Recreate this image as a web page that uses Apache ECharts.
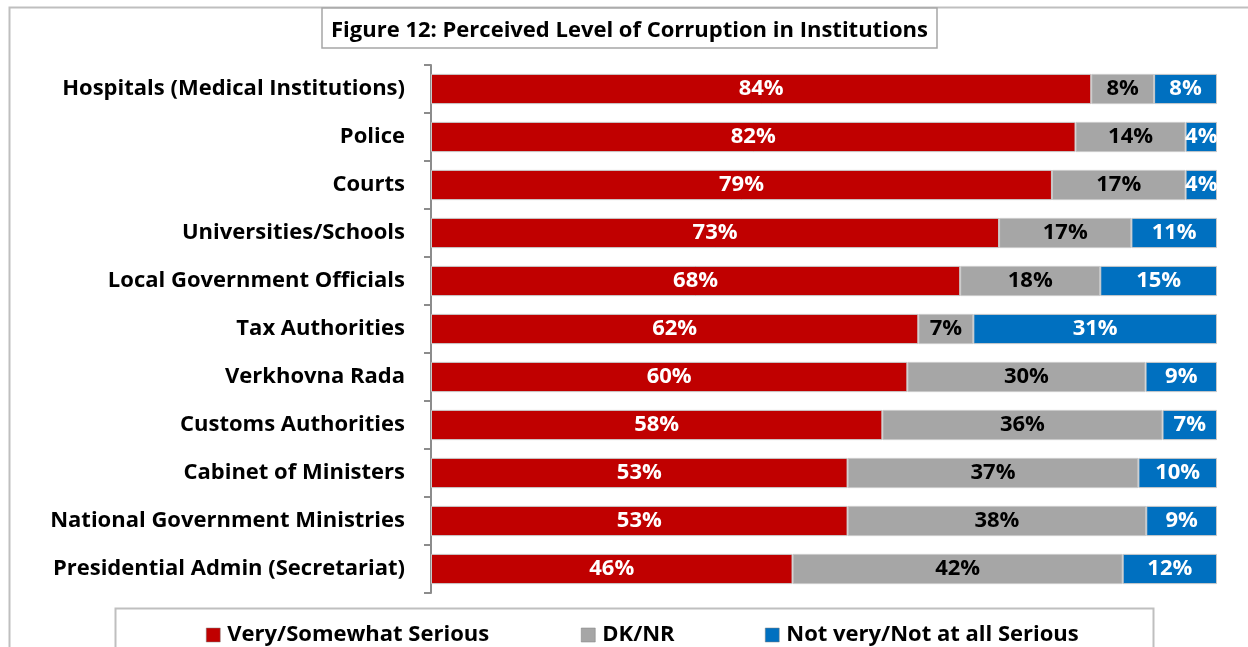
<!DOCTYPE html>
<html>
<head>
<meta charset="utf-8">
<script src="https://cdn.jsdelivr.net/npm/echarts@6/dist/echarts.min.js"></script>
<style>
  html, body { margin: 0; padding: 0; background: #fff; }
  #chart { width: 1248px; height: 647px; }
</style>
</head>
<body>
<div id="chart"></div>
<script>
// Institutions, top to bottom
const institutions = [
  'Hospitals (Medical Institutions)',
  'Police',
  'Courts',
  'Universities/Schools',
  'Local Government Officials',
  'Tax Authorities',
  'Verkhovna Rada',
  'Customs Authorities',
  'Cabinet of Ministers',
  'National Government Ministries',
  'Presidential Admin (Secretariat)'
];

// Survey shares (%)
const serious    = [84, 82, 79, 73, 68, 62, 60, 58, 53, 53, 46];
const dkNr       = [8, 14, 17, 17, 18, 7, 30, 36, 37, 38, 42];
const notSerious = [8, 4, 4, 11, 15, 31, 9, 7, 10, 9, 12];

const seriesNames = ['Very/Somewhat Serious', 'DK/NR', 'Not very/Not at all Serious'];
const seriesColors = ['#C00000', '#A6A6A6', '#0070C0'];
const labelColors = ['#ffffff', '#000000', '#ffffff'];

const FONT = 'Open Sans';
const FS = 22;
const groups = [serious, dkNr, notSerious];

// Each bar is drawn as a 100% stack: a segment's length is its share of the row total
const totals = institutions.map((_, i) => groups.reduce((s, g) => s + g[i], 0));

const series = groups.map((vals, k) => ({
  name: seriesNames[k],
  type: 'bar',
  stack: 'total',
  barCategoryGap: '37%',
  itemStyle: { color: seriesColors[k], borderColor: '#c8c8c8', borderWidth: 1 },
  label: {
    show: true,
    position: 'inside',
    color: labelColors[k],
    fontFamily: FONT,
    fontWeight: 'bold',
    fontSize: FS,
    padding: [4, 0, 0, 0],
    formatter: p => vals[p.dataIndex] + '%'
  },
  data: vals.map((v, i) => v / totals[i] * 100)
}));

// One legend block per series so each entry sits at its own x position
const legendLeft = [201, 576, 760];
const legends = seriesNames.map((name, k) => ({
  data: [name],
  left: legendLeft[k],
  top: 619,
  itemWidth: 14,
  itemHeight: 14,
  icon: 'rect',
  itemStyle: { borderColor: '#7f7f7f', borderWidth: 0.5 },
  textStyle: { fontFamily: FONT, fontWeight: 'bold', fontSize: FS, color: '#000', padding: [0, 0, 0, 2] }
}));

const chart = echarts.init(document.getElementById('chart'), null, { renderer: 'canvas' });
chart.setOption({
  animation: false,
  backgroundColor: '#ffffff',
  textStyle: { fontFamily: FONT },
  graphic: [
    { type: 'rect', silent: true, z: -1,
      shape: { x: 9.5, y: 7.5, width: 1300, height: 700 },
      style: { fill: 'none', stroke: '#bfbfbf', lineWidth: 2 } },
    { type: 'rect', silent: true, z: -1,
      shape: { x: 115.5, y: 608.5, width: 1038, height: 60 },
      style: { fill: '#fff', stroke: '#bfbfbf', lineWidth: 2 } }
  ],
  title: {
    text: 'Figure 12: Perceived Level of Corruption in Institutions',
    left: 322,
    top: 8,
    padding: [10, 9, 5, 9],
    borderColor: '#a6a6a6',
    borderWidth: 1.5,
    backgroundColor: '#fff',
    textStyle: { fontFamily: FONT, fontWeight: 'bold', fontSize: FS, lineHeight: 25, color: '#000' }
  },
  legend: legends,
  grid: { left: 431, right: 31, top: 65, bottom: 54, containLabel: false },
  xAxis: {
    type: 'value',
    min: 0,
    max: 100,
    show: false
  },
  yAxis: {
    type: 'category',
    inverse: true,
    data: institutions,
    axisLine: { show: true, lineStyle: { color: '#8c8c8c', width: 2 } },
    axisTick: { show: true, length: 7, inside: false, lineStyle: { color: '#8c8c8c', width: 2 } },
    axisLabel: {
      fontFamily: FONT,
      fontWeight: 'bold',
      fontSize: FS,
      color: '#000',
      padding: [4, 0, 0, 0],
      margin: 26
    }
  },
  series: series
});
</script>
</body>
</html>
